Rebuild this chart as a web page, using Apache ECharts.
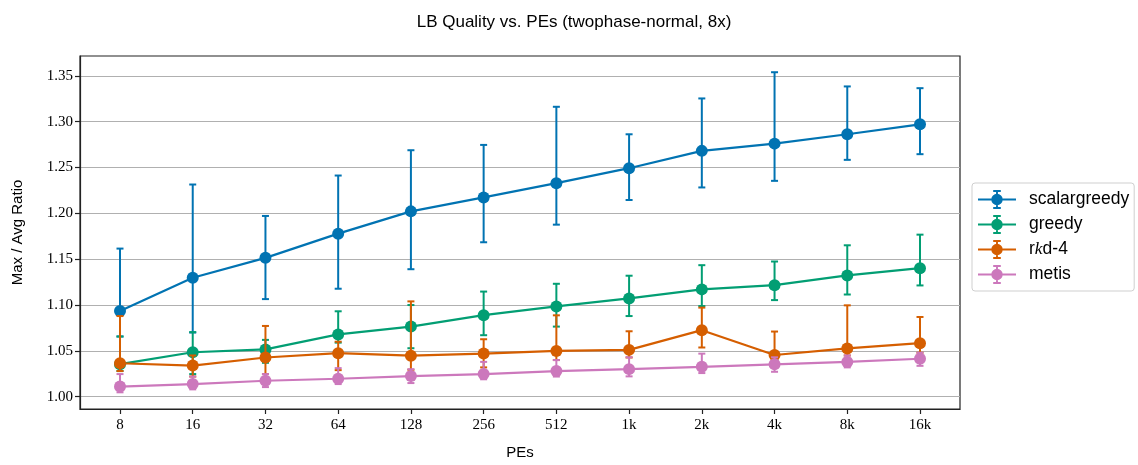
<!DOCTYPE html>
<html>
<head>
<meta charset="utf-8">
<script src="https://cdn.jsdelivr.net/npm/echarts@6/dist/echarts.min.js"></script>
<style>html,body{margin:0;padding:0;background:#fff}#c{width:1138px;height:465px}</style>
</head>
<body>
<div id="c"></div>
<script>
const categories = ['8','16','32','64','128','256','512','1k','2k','4k','8k','16k'];
const yTicks = [1.00,1.05,1.10,1.15,1.20,1.25,1.30,1.35];

const scalarMean = [1.0935,1.1298,1.1515,1.1779,1.2022,1.2174,1.2330,1.2493,1.2682,1.2761,1.2863,1.2972];
const scalarLow  = [1.0657,1.070,1.1065,1.1178,1.1391,1.1685,1.1877,1.2146,1.2283,1.2355,1.2584,1.2646];
const scalarHigh = [1.1616,1.2315,1.1972,1.2413,1.2689,1.2747,1.3163,1.2863,1.3254,1.3540,1.3385,1.3366];

const greedyMean = [1.0355,1.0485,1.0516,1.0680,1.0765,1.0890,1.0985,1.1072,1.1171,1.1217,1.1323,1.1402];
const greedyLow  = [1.028,1.0247,1.037,1.059,1.0529,1.0671,1.0765,1.088,1.0989,1.1054,1.1115,1.1214];
const greedyHigh = [1.0657,1.0705,1.062,1.0932,1.100,1.1147,1.1232,1.1320,1.1435,1.1475,1.1652,1.1768];

const rkdMean = [1.0365,1.0340,1.0428,1.0475,1.0448,1.0471,1.0500,1.0511,1.0726,1.0455,1.0527,1.0584];
const rkdLow  = [1.028,1.022,1.0247,1.029,1.0294,1.032,1.040,1.0428,1.0537,1.040,1.045,1.048];
const rkdHigh = [1.088,1.045,1.0772,1.060,1.1040,1.0627,1.0888,1.0714,1.0972,1.0711,1.0997,1.0870];

const metisMean = [1.0111,1.0138,1.0174,1.0196,1.0225,1.0247,1.0280,1.0301,1.0326,1.0353,1.0380,1.0414];
const metisLow  = [1.0048,1.008,1.0105,1.0138,1.0149,1.019,1.022,1.0222,1.0258,1.0272,1.032,1.0337];
const metisHigh = [1.0247,1.022,1.0247,1.0312,1.030,1.038,1.040,1.043,1.047,1.043,1.045,1.048];

const seriesDefs = [
  {name:'scalargreedy', color:'#0173b2', mean:scalarMean, low:scalarLow, high:scalarHigh},
  {name:'greedy', color:'#029e73', mean:greedyMean, low:greedyLow, high:greedyHigh},
  {name:'rkd-4', color:'#d55e00', mean:rkdMean, low:rkdLow, high:rkdHigh},
  {name:'metis', color:'#cc78bc', mean:metisMean, low:metisLow, high:metisHigh}
];

const legendIcon = 'path://M0,9H40V11H0Z M19,1H21V19H19Z M16,0H24V2H16Z M16,18H24V20H16Z M26,10A6,6,0,1,1,14,10A6,6,0,1,1,26,10Z';

function errRender(color){
  return function(params, api){
    const x = api.value(0), lo = api.value(1), hi = api.value(2);
    const p1 = api.coord([x, lo]), p2 = api.coord([x, hi]);
    const w = 3.5;
    const st = {stroke: color, lineWidth: 2};
    return {type:'group', children:[
      {type:'line', shape:{x1:p1[0], y1:p1[1], x2:p2[0], y2:p2[1]}, style:st},
      {type:'line', shape:{x1:p1[0]-w, y1:p1[1], x2:p1[0]+w, y2:p1[1]}, style:st},
      {type:'line', shape:{x1:p2[0]-w, y1:p2[1], x2:p2[0]+w, y2:p2[1]}, style:st}
    ]};
  };
}

const series = [];
seriesDefs.forEach((s, k) => {
  series.push({
    name: s.name + '-err', type:'custom', renderItem: errRender(s.color),
    data: categories.map((c,i)=>[i, s.low[i], s.high[i]]),
    encode:{x:0, y:[1,2]}, z: 2 + 2*k, silent:true
  });
  series.push({
    name: s.name, type:'line', color: s.color,
    data: categories.map((c,i)=>[i, s.mean[i]]),
    symbol:'circle', symbolSize:12, showSymbol:true,
    lineStyle:{width:2.2, color:s.color}, itemStyle:{color:s.color},
    z: 3 + 2*k
  });
});

const chart = echarts.init(document.getElementById('c'), null, {renderer:'canvas'});
chart.setOption({
  animation:false,
  backgroundColor:'#fff',
  title:{
    text:'LB Quality vs. PEs (twophase-normal, 8x)',
    left: 569, top: 9, textAlign:'center',
    textStyle:{fontFamily:'Liberation Sans', fontSize:17, fontWeight:'normal', color:'#000'}
  },
  grid:{left:80, right:178, top:56, bottom:55, show:true, borderColor:'#222', borderWidth:1.2, backgroundColor:'transparent'},
  legend:{
    orient:'vertical', left:972, top:183,
    padding:[7, 5, 7, 6], itemGap:6, itemWidth:38, itemHeight:19,
    borderColor:'#cfcfcf', borderWidth:1, borderRadius:3,
    backgroundColor:'#fff',
    data: seriesDefs.map(s=>({name:s.name, icon:legendIcon, itemStyle:{color:s.color}})),
    formatter: function(n){ return n === 'rkd-4' ? 'r{k|k}d-4' : n; },
    textStyle:{fontFamily:'Liberation Sans', fontSize:17.5, color:'#000', padding:[0,0,0,8],
      rich:{k:{fontFamily:'Liberation Serif', fontStyle:'italic', fontSize:17.5, color:'#000'}}}
  },
  xAxis:{
    type:'value', min:-0.55, max:11.55,
    name:'PEs', nameLocation:'middle', nameGap:36,
    nameTextStyle:{fontFamily:'Liberation Sans', fontSize:15, color:'#000'},
    axisLine:{show:true, onZero:false, lineStyle:{color:'#222', width:1.2}},
    axisTick:{show:true, customValues:categories.map((c,i)=>i), length:5, lineStyle:{color:'#222', width:1.2}},
    axisLabel:{customValues:categories.map((c,i)=>i), formatter:(v)=>categories[Math.round(v)],
      fontFamily:'Liberation Serif', fontSize:15, color:'#000', margin:9},
    splitLine:{show:false}
  },
  yAxis:{
    type:'value', min:0.9866, max:1.3717,
    name:'Max / Avg Ratio', nameLocation:'middle', nameGap:55,
    nameTextStyle:{fontFamily:'Liberation Sans', fontSize:15, color:'#000'},
    axisLine:{show:true, onZero:false, lineStyle:{color:'#222', width:1.2}},
    axisTick:{show:true, customValues:yTicks, length:5, lineStyle:{color:'#222', width:1.2}},
    axisLabel:{customValues:yTicks, formatter:(v)=>v.toFixed(2),
      fontFamily:'Liberation Serif', fontSize:15, color:'#000', margin:7},
    splitLine:{show:true, lineStyle:{color:'#b0b0b0', width:1.2}}
  },
  series: series
});
</script>
</body>
</html>
